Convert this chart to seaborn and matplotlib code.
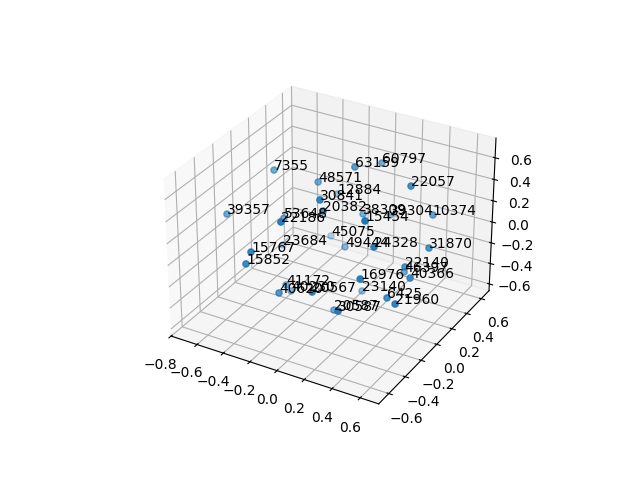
import matplotlib
matplotlib.use('Agg')
import matplotlib.pyplot as plt
import seaborn as sns

labels = ['7355', '63159', '60797', '48571', '22057', '30841', '12884', '39357', '53648', '20382',
          '22186', '38309', '15454', '39304', '10374', '45075', '23684', '49444', '24328', '31870',
          '15767', '15852', '22140', '46397', '40366', '16976', '41172', '23140', '40620', '40230',
          '20567', '6425', '21960', '20587', '30587']
xs = [-0.487, 0.053, 0.104, -0.222, 0.469, 0.078, -0.287, -0.651, -0.402, 0.075,
      -0.048, 0.037, 0.436, 0.100, 0.513, -0.353, -0.620, -0.060, 0.482, 0.642,
      -0.215, -0.254, 0.524, 0.404, 0.608, 0.458, -0.282, 0.064, -0.122, -0.294,
      0.221, 0.514, 0.641, 0.073, 0.390]
ys = [0.016, 0.112, 0.360, 0.118, 0.090, -0.338, 0.453, -0.280, -0.006, -0.298,
      -0.578, 0.244, -0.405, 0.483, 0.303, 0.484, 0.307, 0.182, -0.374, 0.025,
      -0.658, -0.658, -0.063, 0.142, -0.146, -0.493, -0.176, 0.193, -0.499, -0.100,
      -0.658, -0.263, -0.385, -0.168, -0.635]
zs = [0.510, 0.660, 0.560, 0.426, 0.643, 0.658, 0.077, 0.236, 0.107, 0.532,
      0.575, 0.136, 0.643, -0.008, 0.257, -0.375, -0.442, -0.170, 0.409, 0.186,
      0.300, 0.178, 0.028, -0.208, 0.016, 0.195, -0.368, -0.557, -0.151, -0.485,
      0.105, -0.120, -0.038, -0.476, -0.018]

fig = plt.figure()
ax = fig.add_subplot(projection='3d')
ax.scatter(xs, ys, zs, color=sns.color_palette('tab10')[0])
for x, y, z, lab in zip(xs, ys, zs, labels):
    ax.text(x, y, z, lab)

ax.set_xlim(-0.80, 0.73)
ax.set_ylim(-0.72, 0.71)
ax.set_zlim(-0.667, 0.78)
fig.savefig('out.png')
